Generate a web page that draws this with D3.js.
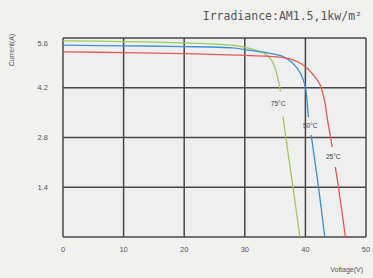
<!DOCTYPE html>
<html>
<head>
<meta charset="utf-8">
<script src="https://cdn.jsdelivr.net/npm/d3@7"></script>
<style>
  body { margin: 0; background: #f1f1f0; }
  svg { display: block; }
  text { font-family: "Liberation Sans", Arial, sans-serif; fill: #555; }
</style>
</head>
<body>
<svg id="chart" width="373" height="278"></svg>
<script>
// IV curves at three cell temperatures
var xTicks = [0, 10, 20, 30, 40, 50];
var yTicks = [1.4, 2.8, 4.2, 5.6];

var v75 = [0, 10, 20, 26, 29, 30.9, 33.1, 34.2, 34.8, 35.3, 35.8, 36.3, 37.7, 39.1];
var i75 = [5.52, 5.50, 5.46, 5.42, 5.37, 5.30, 5.18, 5.02, 4.85, 4.57, 4.19, 3.40, 1.70, 0];

var v50 = [0, 10, 20, 28, 30.9, 33.7, 36.4, 38.6, 39.9, 40.5, 41.1, 42.2, 43.2];
var i50 = [5.40, 5.38, 5.36, 5.32, 5.25, 5.18, 5.07, 4.76, 4.29, 3.38, 2.70, 1.35, 0];

var v25 = [0, 10, 20, 30, 36.4, 38.5, 40.2, 41.5, 42.4, 43.2, 43.6, 44.4, 45.5, 46.6];
var i25 = [5.21, 5.19, 5.16, 5.11, 5.05, 4.95, 4.76, 4.52, 4.29, 3.80, 3.35, 2.55, 1.35, 0];

var names = ["75°C", "50°C", "25°C"];
var labelV = [35.5, 40.8, 44.6];
var labelI = [3.74, 3.12, 2.25];

var colors = ["#9dcb5c", "#3d8fd1", "#e25a5a"];
var gapH = [25, 18, 20];

var series = [
  { v: v75, i: i75 }, { v: v50, i: i50 }, { v: v25, i: i25 }
].map((s, k) => Object.assign(s, { name: names[k], lv: labelV[k], li: labelI[k], color: colors[k], gap: gapH[k] }));

var svg = d3.select("#chart");
var x = d3.scaleLinear().domain([0, 50]).range([63, 366]);
var y = d3.scaleLinear().domain([0, 5.6]).range([237, 38]);

// plot background
svg.append("rect")
  .attr("x", x(0)).attr("y", y(5.6))
  .attr("width", x(50) - x(0)).attr("height", y(0) - y(5.6))
  .attr("fill", "#eeefee");

// grid
svg.append("g").selectAll("line")
  .data(xTicks).enter().append("line")
  .attr("x1", d => x(d)).attr("x2", d => x(d))
  .attr("y1", y(0)).attr("y2", y(5.6))
  .attr("stroke", "#474747").attr("stroke-width", 1.5);
svg.append("g").selectAll("line")
  .data([0].concat(yTicks)).enter().append("line")
  .attr("x1", x(0)).attr("x2", x(50))
  .attr("y1", d => y(d)).attr("y2", d => y(d))
  .attr("stroke", "#474747").attr("stroke-width", 1.5);

// masks cut a gap in each curve where its label sits
var defs = svg.append("defs");
series.forEach(function(s, k) {
  var m = defs.append("mask").attr("id", "gap" + k)
    .attr("maskUnits", "userSpaceOnUse")
    .attr("x", 0).attr("y", 0).attr("width", 373).attr("height", 278);
  m.append("rect").attr("width", 373).attr("height", 278).attr("fill", "#fff");
  m.append("rect")
    .attr("x", x(s.lv) - 14).attr("y", y(s.li) - s.gap / 2)
    .attr("width", 28).attr("height", s.gap)
    .attr("fill", "#000");
});

// curves
var line = d3.line()
  .x(d => x(d[0])).y(d => y(d[1]))
  .curve(d3.curveCatmullRom.alpha(0.5));
series.forEach(function(s, k) {
  var pts = s.v.map((v, j) => [v, s.i[j]]);
  svg.append("path")
    .attr("d", line(pts))
    .attr("mask", "url(#gap" + k + ")")
    .attr("fill", "none")
    .attr("stroke", s.color)
    .attr("stroke-width", 1.3);
});

// curve labels
svg.append("g").selectAll("text")
  .data(series).enter().append("text")
  .attr("x", d => x(d.lv)).attr("y", d => y(d.li))
  .attr("text-anchor", "middle").attr("dy", "0.35em")
  .style("font-size", "6.5px").style("fill", "#444")
  .text(d => d.name);

// tick labels
svg.append("g").selectAll("text")
  .data(xTicks).enter().append("text")
  .attr("x", d => x(d)).attr("y", 252)
  .attr("text-anchor", "middle")
  .style("font-size", "7.5px")
  .text(d => d);
svg.append("g").selectAll("text")
  .data(yTicks).enter().append("text")
  .attr("x", 48).attr("y", d => d === 5.6 ? y(d) + 5 : y(d))
  .attr("dy", "0.35em")
  .attr("text-anchor", "end")
  .style("font-size", "7.5px")
  .text(d => d.toFixed(1));

// axis titles
svg.append("text")
  .attr("x", 363).attr("y", 272)
  .attr("text-anchor", "end")
  .style("font-size", "7px")
  .text("Voltage(V)");
svg.append("text")
  .attr("transform", "translate(14,50) rotate(-90)")
  .attr("text-anchor", "middle")
  .style("font-size", "7px")
  .text("Current(A)");

svg.append("text")
  .attr("x", 362).attr("y", 20)
  .attr("text-anchor", "end")
  .style("font-family", "'DejaVu Sans Mono', monospace")
  .style("font-size", "11.5px")
  .text("Irradiance:AM1.5,1kw/m²");
</script>
</body>
</html>
